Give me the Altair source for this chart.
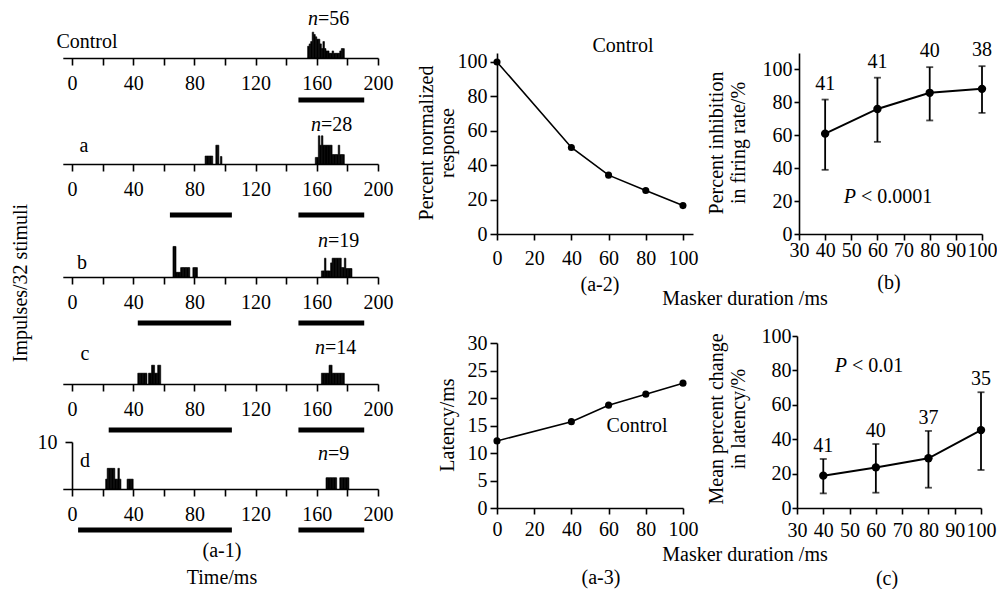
import altair as alt
import pandas as pd

FONT = "Liberation Serif"
FS = 20
W, H = 989, 581

# ---------------- (a-1) PSTHs: bin start (ms, 1-ms bins) and height (impulses) -------------
ctrl_t = [154, 155, 156, 157, 158, 159, 160, 161, 162, 163, 164, 165, 166, 167, 168, 169,
          170, 171, 172, 173, 174, 175, 176, 177]
ctrl_h = [2.5, 3, 3.5, 5.5, 5, 4.5, 4, 4, 3, 2, 3.5, 2, 1.5, 1.5, 1, 1,
          1.5, 1, 1, 1, 1, 1.5, 2, 2]

a_t = [87, 88, 89, 90, 91, 94, 95, 97,
       159, 160, 161, 162, 163, 164, 165, 166, 167, 168, 169, 170, 171, 172, 173, 174, 175, 176, 177]
a_h = [1.7, 1.7, 1.7, 1.7, 1.7, 4, 4, 1.6,
       1.4, 1.4, 6, 4, 6, 4, 4, 4, 4, 4, 4, 2, 2, 2, 2, 4, 2, 2, 2]

b_t = [66, 67, 68, 69, 70, 71, 72, 73, 74, 75, 76, 79, 80, 81,
       163, 164, 165, 166, 167, 168, 169, 170, 171, 172, 173, 174, 175, 176, 177, 178, 179, 180, 181, 182]
b_h = [6.5, 6.5, 1, 1, 1, 2, 2, 2, 2, 2, 2, 2, 2, 2,
       1.3, 1.3, 4, 1.3, 1.3, 1.3, 3, 4, 4, 4, 4, 4, 4, 2, 2, 4, 1.8, 1.8, 1.8, 1.8]

c_t = [43, 44, 45, 46, 47, 48, 50, 51, 52, 53, 54, 55, 56, 57,
       163, 164, 165, 166, 167, 168, 169, 170, 171, 172, 173, 174, 175, 176, 177]
c_h = [2.3, 2.3, 2.3, 2.3, 2.3, 2.3, 2.3, 2.3, 4, 4, 2.3, 2.3, 4, 4,
       2.3, 2.3, 2.3, 2.3, 2.3, 4, 4, 2.3, 2.3, 2.3, 2.3, 2.3, 2.3, 2.3, 2.3]

d_t = [22, 23, 24, 25, 26, 27, 28, 29, 30, 31, 36, 37, 38, 39,
       166, 167, 168, 169, 170, 171, 172, 175, 176, 177, 178, 179, 180]
d_h = [2.1, 4.4, 4.4, 4.4, 4.4, 4.4, 2.1, 2.1, 4.4, 2.1, 2.1, 2.1, 2.1, 2.1,
       2.4, 2.4, 2.4, 2.4, 2.4, 2.4, 2.4, 2.4, 2.4, 2.4, 2.4, 2.4, 2.4]

# stimulus timing (ms): probe and masker (Control has no masker)
probe_on, probe_off = 148, 191
masker_on = [None, 64, 43, 24, 4]
masker_off = [None, 104.5, 104, 104.5, 104.5]

panel_names = ["Control", "a", "b", "c", "d"]
n_counts = [56, 28, 19, 14, 9]
hist_ticks = [0, 20, 40, 60, 80, 100, 120, 140, 160, 180, 200]

# ---------------- (a-2), (a-3) control curves ----------------
ctl_dur = [0, 40, 60, 80, 100]
ctl_resp = [100, 50.3, 34.2, 25.3, 16.5]
ctl_lat = [12.2, 15.7, 18.7, 20.7, 22.7]

# ---------------- (b), (c) masker duration effects ----------------
mask_dur = [40, 60, 80, 100]
inh_mean = [61, 76, 85.8, 88.2]
inh_lo = [39, 56, 69, 73.6]
inh_hi = [81.7, 95, 101.4, 102]
inh_n = [41, 41, 40, 38]
lat_mean = [18.8, 23.6, 28.9, 45.3]
lat_lo = [8.5, 8.9, 11.8, 22.1]
lat_hi = [28.5, 37.2, 44.8, 67.3]
lat_n = [41, 40, 37, 35]

# ---------------- layout (pixels, styles only) ----------------
hist_base = [50, 156, 269, 376, 481]
stim_y = [92, 207, 315, 422, 522]
name_xy = [(79, 40), (76, 144), (74, 261), (77, 352), (77, 459)]
n_xy = [(310, 17), (313, 123), (320, 239), (317, 346), (320, 452)]


def txt(s, x, y, **kw):
    props = dict(font=FONT, fontSize=FS, color="black", baseline="alphabetic")
    props.update(kw)
    return alt.Chart(pd.DataFrame({"s": [s]})).mark_text(**props).encode(
        text="s:N", x=alt.value(x), y=alt.value(y))


def axis(orient, offset, values, tick, pad, expr=None):
    kw = dict(orient=orient, offset=offset, values=values, tickSize=tick,
              labelPadding=pad, title=None, grid=False, labelOverlap=False,
              labelFlush=False)
    if expr:
        kw["labelExpr"] = expr
    return alt.Axis(**kw)


layers = []

hists = [(ctrl_t, ctrl_h), (a_t, a_h), (b_t, b_h), (c_t, c_h), (d_t, d_h)]
for i, (t, h) in enumerate(hists):
    base = hist_base[i]
    xs = alt.Scale(domain=[-6, 200], range=[54.8, 370], nice=False, zero=False)
    ys = alt.Scale(domain=[0, 10], range=[base, base - 47], nice=False, zero=False)
    xa = axis("bottom", base - H, hist_ticks, 7, 8,
              "datum.value % 40 === 0 ? datum.label : ''")
    ya = axis("left", -64, [10], 7, 8) if i == 4 else None
    df = pd.DataFrame({"t": t, "h": h})
    bars = alt.Chart(df).transform_calculate(t2="datum.t + 1").mark_rect(
        color="black", stroke="black", strokeWidth=0.6).encode(
        x=alt.X("t:Q", scale=xs, axis=xa), x2="t2:Q",
        y=alt.Y("h:Q", scale=ys, axis=ya), y2=alt.datum(0))
    st = [probe_on] + ([masker_on[i]] if masker_on[i] is not None else [])
    en = [probe_off] + ([masker_off[i]] if masker_off[i] is not None else [])
    sdf = pd.DataFrame({"start": st, "end": en})
    stim = alt.Chart(sdf).mark_rule(color="black", strokeWidth=5).encode(
        x=alt.X("start:Q", scale=xs, axis=xa), x2="end:Q", y=alt.value(stim_y[i]))
    layers.append(alt.layer(bars, stim))
    nx, ny = name_xy[i]
    layers.append(txt(panel_names[i], nx, ny))
    px, py = n_xy[i]
    layers.append(txt("n", px, py, align="right", fontStyle="italic"))
    layers.append(txt("=" + str(n_counts[i]), px, py, align="left"))

layers.append(txt("Impulses/32 stimuli", 13, 275, angle=270, baseline="middle"))
layers.append(txt("(a-1)", 214, 549))
layers.append(txt("Time/ms", 214, 576))


def curve_panel(xv, yv, xs, ys, xa, ya, size, sw, lo=None, hi=None, n=None, dy=-16):
    df = pd.DataFrame({"x": xv, "y": yv})
    X = alt.X("x:Q", scale=xs, axis=xa)
    parts = [
        alt.Chart(df).mark_line(color="black", strokeWidth=sw).encode(
            x=X, y=alt.Y("y:Q", scale=ys, axis=ya)),
        alt.Chart(df).mark_circle(color="black", opacity=1, size=size).encode(
            x=X, y=alt.Y("y:Q", scale=ys, axis=ya)),
    ]
    if lo is not None:
        edf = pd.DataFrame({"x": xv, "lo": lo, "hi": hi, "n": n})
        eb = alt.Chart(edf)
        parts.append(eb.mark_rule(color="black", strokeWidth=1.8).encode(
            x=X, y=alt.Y("lo:Q", scale=ys, axis=ya), y2="hi:Q"))
        for f in ["lo", "hi"]:
            parts.append(eb.mark_tick(color="black", orient="horizontal", size=7,
                                      thickness=1.8).encode(
                x=X, y=alt.Y(f + ":Q", scale=ys, axis=ya)))
        parts.append(eb.mark_text(font=FONT, fontSize=FS, color="black",
                                  baseline="middle", dy=dy).encode(
            x=X, y=alt.Y("hi:Q", scale=ys, axis=ya), text="n:Q"))
    return alt.layer(*parts)


# (a-2)
layers.append(curve_panel(
    ctl_dur, ctl_resp,
    alt.Scale(domain=[0, 105.4], range=[489, 685], nice=False, zero=False),
    alt.Scale(domain=[0, 105.2], range=[226, 45], nice=False, zero=False),
    axis("bottom", 226 - H, [0, 20, 40, 60, 80, 100], 6, 8),
    axis("left", -489, [0, 20, 40, 60, 80, 100], 7, 3),
    50, 1.6))
layers.append(txt("Control", 615, 44))
layers.append(txt("Percent normalized", 419, 135, angle=270, baseline="middle"))
layers.append(txt("response", 440, 135, angle=270, baseline="middle"))
layers.append(txt("(a-2)", 592, 283))

# (a-3)
layers.append(curve_panel(
    ctl_dur, ctl_lat,
    alt.Scale(domain=[0, 100], range=[489, 675], nice=False, zero=False),
    alt.Scale(domain=[0, 30], range=[500, 335], nice=False, zero=False),
    axis("bottom", 500 - H, [0, 20, 40, 60, 80, 100], 6, 5),
    axis("left", -489, [0, 5, 10, 15, 20, 25, 30], 7, 3),
    50, 1.6))
layers.append(txt("Control", 629, 424))
layers.append(txt("Latency/ms", 440, 417, angle=270, baseline="middle"))
layers.append(txt("(a-3)", 593, 576))

layers.append(txt("Masker duration /ms", 737, 297))
layers.append(txt("Masker duration /ms", 737, 553))

# (b)
layers.append(curve_panel(
    mask_dur, inh_mean,
    alt.Scale(domain=[30, 100], range=[791, 974], nice=False, zero=False),
    alt.Scale(domain=[0, 110], range=[226, 45], nice=False, zero=False),
    axis("bottom", 226 - H, [30, 40, 50, 60, 70, 80, 90, 100], 6, 0),
    axis("left", -791, [0, 20, 40, 60, 80, 100], 5, 2),
    70, 2, inh_lo, inh_hi, inh_n, -16))
layers.append(txt("Percent inhibition", 709, 135, angle=270, baseline="middle"))
layers.append(txt("in firing rate/%", 731, 135, angle=270, baseline="middle"))
layers.append(txt("P", 848, 195, align="right", fontStyle="italic"))
layers.append(txt("< 0.0001", 848, 195, align="left", dx=5))
layers.append(txt("(b)", 881, 281))

# (c)
layers.append(curve_panel(
    mask_dur, lat_mean,
    alt.Scale(domain=[30, 100], range=[789, 973], nice=False, zero=False),
    alt.Scale(domain=[0, 100], range=[500, 328], nice=False, zero=False),
    axis("bottom", 500 - H, [30, 40, 50, 60, 70, 80, 90, 100], 6, 6),
    axis("left", -789, [0, 20, 40, 60, 80, 100], 5, 1),
    70, 2, lat_lo, lat_hi, lat_n, -13))
layers.append(txt("Mean percent change", 709, 411, angle=270, baseline="middle"))
layers.append(txt("in latency/%", 731, 411, angle=270, baseline="middle"))
layers.append(txt("P", 839, 364, align="right", fontStyle="italic"))
layers.append(txt("< 0.01", 839, 364, align="left", dx=5))
layers.append(txt("(c)", 879, 577))

chart = alt.layer(*layers).resolve_scale(
    x="independent", y="independent"
).properties(
    width=W, height=H, padding=0, autosize=alt.AutoSizeParams(type="none")
).configure_view(stroke=None).configure_axis(
    labelFont=FONT, labelFontSize=FS, labelColor="black",
    domainColor="black", tickColor="black", domainWidth=1.6, tickWidth=1.6,
    grid=False)

chart.save("out.html", embed_options={"renderer": "svg", "actions": False})
